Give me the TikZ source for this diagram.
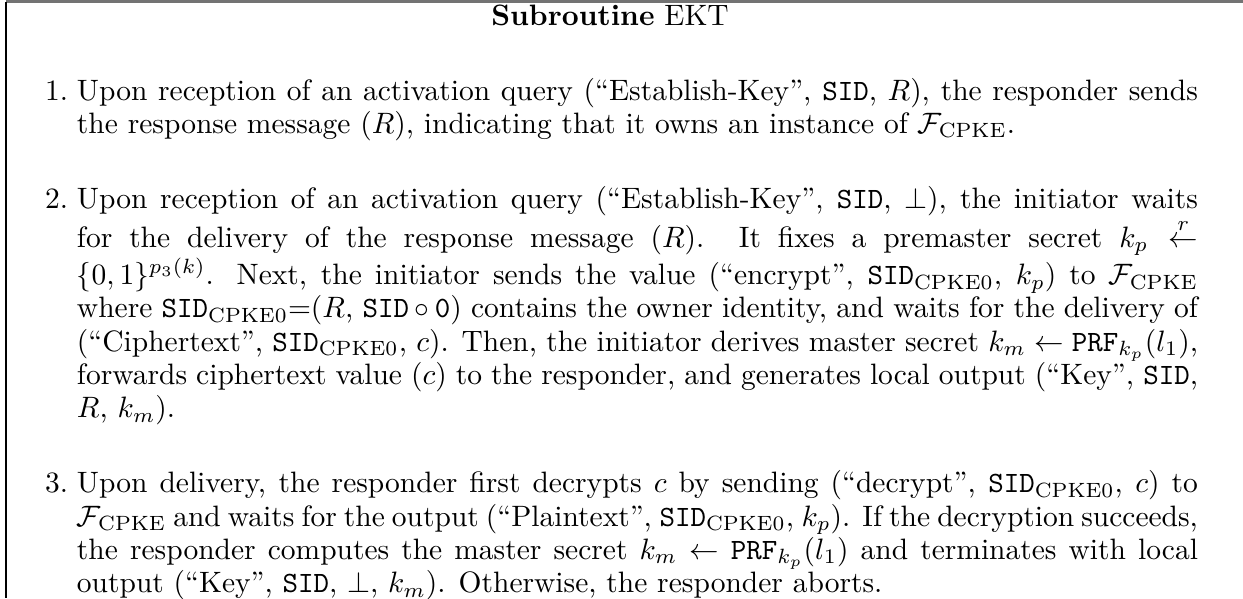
\documentclass[tikz,border=0pt]{standalone}
\usepackage{amsmath,amssymb}
\newcommand{\sidv}{\texttt{SID}}
\newcommand{\sidc}{\texttt{SID}_{\mathrm{CPKE0}}}
\newcommand{\fcpke}{\mathcal{F}_{\mathrm{CPKE}}}
\newcommand{\prfk}{\texttt{PRF}_{k_p}(l_1)}
\tikzset{
  frametop/.style={line width=0.7pt, draw=black!55},
  frameleft/.style={line width=0.4pt, draw=black},
  bodytext/.style={anchor=base west, inner sep=0pt, outer sep=0pt},
}
\begin{document}
\begin{tikzpicture}[x=0.33898pt, y=-0.33898pt]
  \useasboundingbox (0,0) rectangle (1243,598);
  % open frame: top rule and left rule only
  \coordinate (tl) at (6,1.5);
  \coordinate (tr) at (1243,1.5);
  \coordinate (bl) at (6,598);
  \draw[frametop] (tl) -- (tr);
  \draw[frameleft] (tl) -- (bl);
  % heading
  \node[anchor=base, inner sep=0pt] (title) at (610,25) {\textbf{Subroutine} EKT};
  % numbered steps
  \node[bodytext] (steps) at (20,100) {%
    \setlength{\leftmargini}{19.32pt}%
    \setlength{\labelsep}{3.05pt}%
    \begin{minipage}[t]{399.3pt}
    \fontsize{10pt}{11.3pt}\selectfont
    \begin{enumerate}
    \setlength{\itemsep}{10.06pt}\setlength{\parsep}{0pt}
    \item Upon reception of an activation query (``Establish-Key'', \sidv, $R$), the responder sends\linebreak
      the response message ($R$), indicating that it owns an instance of $\fcpke$.
    \item Upon reception of an activation query (``Establish-Key'', \sidv, $\perp$), the initiator waits\linebreak
      for the delivery of the response message ($R$). It fixes a premaster secret $k_p \stackrel{r}{\leftarrow}$\linebreak
      $\{0,1\}^{p_3(k)}$. Next, the initiator sends the value (``encrypt'', $\sidc$, $k_p$) to $\fcpke$\linebreak
      where $\sidc$=($R$, $\sidv\circ\texttt{0}$) contains the owner identity, and waits for the delivery of\linebreak
      (``Ciphertext'', $\sidc$, $c$). Then, the initiator derives master secret $k_m \leftarrow \prfk$,\linebreak
      forwards ciphertext value ($c$) to the responder, and generates local output (``Key'', \sidv,\linebreak
      $R$, $k_m$).
    \item Upon delivery, the responder first decrypts $c$ by sending (``decrypt'', $\sidc$, $c$) to\linebreak
      $\fcpke$ and waits for the output (``Plaintext'', $\sidc$, $k_p$). If the decryption succeeds,\linebreak
      the responder computes the master secret $k_m \leftarrow \prfk$ and terminates with local\linebreak
      output (``Key'', \sidv, $\perp$, $k_m$). Otherwise, the responder aborts.
    \end{enumerate}
    \end{minipage}};
\end{tikzpicture}
\end{document}
